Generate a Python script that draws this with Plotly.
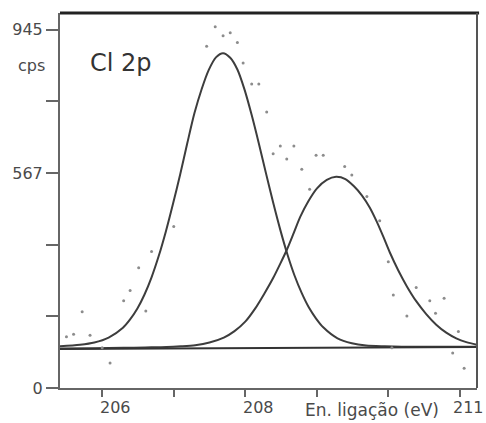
import plotly.graph_objects as go

# Cl 2p fitted component 1 (binding energy in eV, counts)
energy_p1 = [205.41, 205.69, 205.89, 206.09, 206.29, 206.39, 206.49, 206.59, 206.69, 206.79,
             206.89, 206.99, 207.09, 207.19, 207.29, 207.39, 207.49, 207.59, 207.69, 207.79,
             207.89, 207.99, 208.09, 208.19, 208.29, 208.39, 208.49, 208.59, 208.69, 208.79,
             208.89, 208.99, 209.09, 209.29, 209.49, 209.69, 209.95, 210.19, 210.69, 211.24]
counts_p1 = [110, 114, 120, 133, 159, 181, 209, 246, 292, 348,
             413, 486, 563, 646, 725, 788, 839, 872, 883, 871,
             840, 787, 720, 645, 566, 489, 417, 352, 296, 250,
             212, 183, 160, 131, 118, 112, 110, 109, 109, 109]

# Cl 2p fitted component 2
energy_p2 = [205.41, 205.90, 206.30, 206.60, 206.90, 207.10, 207.30, 207.50, 207.70, 207.85,
             208.00, 208.14, 208.27, 208.39, 208.49, 208.58, 208.68, 208.77, 208.88, 209.00,
             209.14, 209.27, 209.40, 209.52, 209.63, 209.74, 209.84, 209.93, 210.02, 210.14,
             210.26, 210.39, 210.53, 210.67, 210.81, 210.95, 211.09, 211.24]
counts_p2 = [104, 105, 106, 107, 108, 110, 113, 120, 133, 150,
             175, 210, 250, 290, 328, 364, 410, 452, 492, 526,
             549, 557, 551, 532, 508, 476, 438, 399, 358, 310,
             268, 229, 195, 167, 146, 131, 121, 114]

# Linear background
energy_bg = [205.41, 211.24]
counts_bg = [103, 108]

# Measured spectrum points
energy_pts = [207.46, 207.58, 207.69, 207.79, 207.89, 207.97, 208.09, 208.19, 208.30, 208.49,
              208.68, 208.39, 208.58, 208.99, 209.09, 208.79, 209.39, 208.90, 209.49, 209.70,
              209.88, 210.00, 210.07, 210.39, 210.26, 210.58, 210.78, 210.66, 210.98, 210.90,
              211.06, 210.05, 207.00, 206.69, 206.51, 206.39, 206.30, 206.61, 205.72, 205.60,
              205.50, 205.83, 206.00, 206.11]
counts_pts = [901, 953, 929, 937, 911, 857, 802, 802, 728, 638,
              638, 618, 604, 614, 614, 577, 584, 524, 562, 505,
              441, 333, 245, 265, 190, 230, 237, 197, 149, 92,
              52, 106, 426, 360, 317, 257, 230, 203, 201, 142,
              135, 139, 106, 66]

# Axis ticks and labels
x_ticks = [206, 207, 208, 209, 210, 211]
x_tick_labels = ['206', '', '208', '', '', '211']
y_ticks = [0, 189, 378, 567, 756, 945]
y_tick_labels = ['0', '', '', '567', '', '945']

FONT = 'DejaVu Sans'
LINE = '#3d3d3d'
AXIS = '#666666'
TEXT = '#4a4a4a'

fig = go.Figure()

for ex, cy in ((energy_p1, counts_p1), (energy_p2, counts_p2)):
    fig.add_trace(go.Scatter(x=ex, y=cy, mode='lines', hoverinfo='skip',
                             line=dict(color=LINE, width=2, shape='spline', smoothing=0.8)))

fig.add_trace(go.Scatter(x=energy_bg, y=counts_bg, mode='lines', hoverinfo='skip',
                         line=dict(color='#333333', width=2)))

fig.add_trace(go.Scatter(x=energy_pts, y=counts_pts, mode='markers',
                         marker=dict(color='#8c8c8c', size=3)))

annotations = [
    dict(text='Cl 2p', xref='paper', yref='paper', x=0.146, y=0.867,
         xanchor='center', yanchor='middle',
         showarrow=False, font=dict(family=FONT, size=24, color='#333333')),
    dict(text='cps', xref='paper', yref='paper', x=-0.031, y=0.861,
         xanchor='right', yanchor='middle',
         showarrow=False, font=dict(family=FONT, size=16, color=TEXT)),
    dict(text='En. ligação (eV)', xref='paper', yref='paper', x=0.748, y=-0.059,
         xanchor='center', yanchor='middle',
         showarrow=False, font=dict(family=FONT, size=17, color=TEXT)),
]
# x tick labels sit just right of their ticks; the last one is pulled in from the edge
for tv, tl in zip(x_ticks, x_tick_labels):
    if tl:
        annotations.append(dict(text=tl, x=tv, xref='x', yref='paper', y=-0.051,
                                xanchor='left', yanchor='middle',
                                xshift=-9 if tv == x_ticks[-1] else -4, showarrow=False,
                                font=dict(family=FONT, size=16, color=TEXT)))

fig.update_layout(
    width=486, height=423,
    margin=dict(l=60, r=9, t=13, b=35),
    paper_bgcolor='white', plot_bgcolor='white',
    showlegend=False,
    annotations=annotations,
    xaxis=dict(range=[205.41, 211.24], tickvals=x_ticks, showticklabels=False,
               ticks='outside', ticklen=7, tickwidth=1.5, tickcolor=AXIS,
               showgrid=False, zeroline=False, showline=True, linecolor=AXIS, linewidth=2),
    yaxis=dict(range=[0, 989], tickvals=y_ticks, ticktext=y_tick_labels,
               ticks='outside', ticklen=12, tickwidth=1.5, tickcolor=AXIS,
               tickfont=dict(family=FONT, size=16, color=TEXT),
               showgrid=False, zeroline=False, showline=True, linecolor=AXIS, linewidth=2),
    shapes=[
        dict(type='line', xref='paper', yref='paper', x0=0, x1=1.005, y0=1, y1=1,
             line=dict(color='#222222', width=3)),
        dict(type='line', xref='paper', yref='paper', x0=1, x1=1, y0=0, y1=1,
             line=dict(color='#555555', width=2)),
    ],
)

fig.write_html('out.html')
